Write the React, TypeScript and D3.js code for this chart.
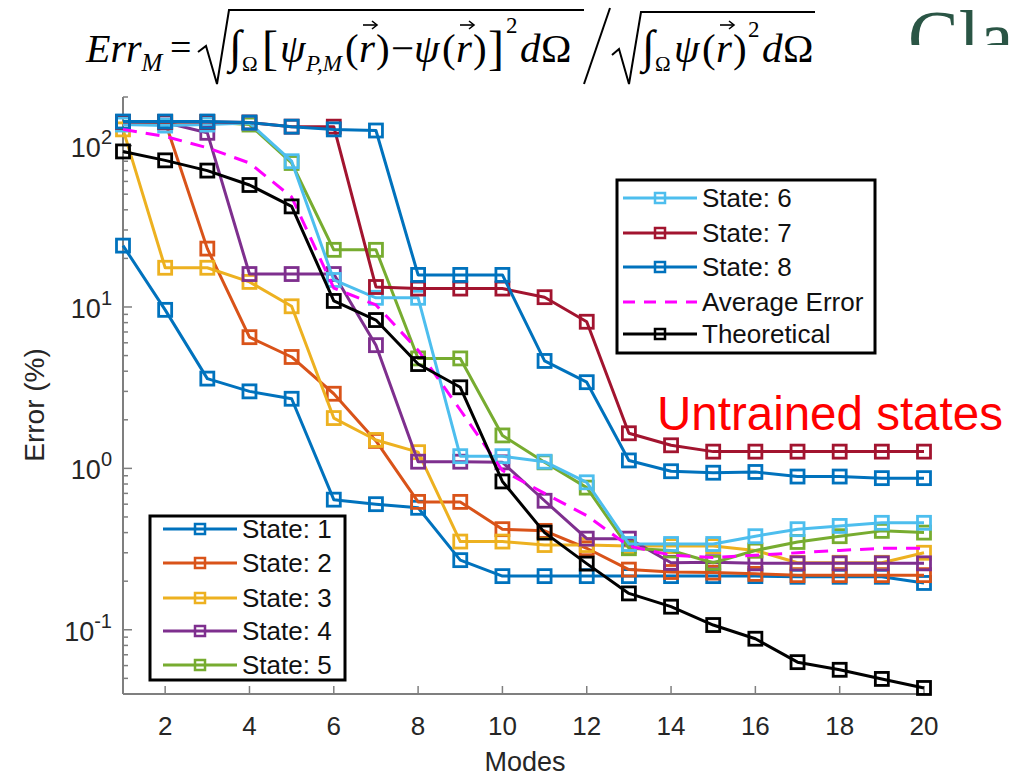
import React from 'react';
import * as d3 from 'd3';

// modes on the x axis
const modes = [1, 2, 3, 4, 5, 6, 7, 8, 9, 10, 11, 12, 13, 14, 15, 16, 17, 18, 19, 20];

const state1 = [24, 9.6, 3.6, 3.0, 2.7, 0.64, 0.6, 0.57, 0.27, 0.215, 0.215, 0.215, 0.215, 0.215, 0.215, 0.215, 0.213, 0.213, 0.213, 0.195];
const state2 = [140, 140, 23, 6.5, 4.9, 2.9, 1.48, 0.62, 0.62, 0.42, 0.41, 0.32, 0.236, 0.228, 0.226, 0.222, 0.218, 0.218, 0.218, 0.218];
const state3 = [126, 17.5, 17.5, 14.3, 10.1, 2.05, 1.5, 1.26, 0.352, 0.352, 0.335, 0.335, 0.33, 0.33, 0.33, 0.31, 0.26, 0.26, 0.26, 0.3];
const state4 = [140, 139, 120, 16, 16, 16, 5.8, 1.1, 1.1, 1.09, 0.63, 0.367, 0.367, 0.26, 0.262, 0.258, 0.258, 0.258, 0.258, 0.258];
const state5 = [140, 140, 140, 135, 78, 22.6, 22.6, 4.8, 4.8, 1.6, 1.09, 0.76, 0.32, 0.31, 0.26, 0.31, 0.35, 0.38, 0.41, 0.4];
const state6 = [135, 133, 135, 138, 80, 14.7, 11.4, 11.4, 1.19, 1.19, 1.1, 0.82, 0.34, 0.34, 0.34, 0.38, 0.42, 0.44, 0.46, 0.46];
const state7 = [140, 140, 140, 139, 131, 131, 13.3, 13, 13, 13, 11.5, 8.1, 1.65, 1.39, 1.27, 1.27, 1.27, 1.27, 1.27, 1.27];
const state8 = [141, 141, 141, 139, 131, 126, 124, 15.8, 15.8, 15.8, 4.63, 3.42, 1.12, 0.96, 0.94, 0.95, 0.89, 0.89, 0.87, 0.87];
const averageError = [126, 114, 97, 78, 48, 13.1, 10.3, 5.4, 2.3, 0.97, 0.7, 0.51, 0.33, 0.29, 0.28, 0.29, 0.3, 0.31, 0.32, 0.32];
const theoretical = [92, 81, 70, 57, 42, 10.9, 8.3, 4.43, 3.18, 0.83, 0.4, 0.257, 0.168, 0.139, 0.107, 0.088, 0.063, 0.0565, 0.0496, 0.0436];

const xTicks = [2, 4, 6, 8, 10, 12, 14, 16, 18, 20];
const yTickExps = [-1, 0, 1, 2];

const seriesList = [
  { name: 'State: 1', values: state1, color: '#0072BD', dashed: false, marker: true },
  { name: 'State: 2', values: state2, color: '#D95319', dashed: false, marker: true },
  { name: 'State: 3', values: state3, color: '#EDB120', dashed: false, marker: true },
  { name: 'State: 4', values: state4, color: '#7E2F8E', dashed: false, marker: true },
  { name: 'State: 5', values: state5, color: '#77AC30', dashed: false, marker: true },
  { name: 'State: 6', values: state6, color: '#4DBEEE', dashed: false, marker: true },
  { name: 'State: 7', values: state7, color: '#A2142F', dashed: false, marker: true },
  { name: 'State: 8', values: state8, color: '#0072BD', dashed: false, marker: true },
  { name: 'Average Error', values: averageError, color: '#FF00FF', dashed: true, marker: false },
  { name: 'Theoretical', values: theoretical, color: '#000000', dashed: false, marker: true },
];

const sans = '"Liberation Sans", Arial, sans-serif';
const serif = '"Liberation Serif", "Times New Roman", serif';
const axisColor = '#7f7f7f';
const textColor = '#262626';

const left = 123;
const right = 924;
const top = 97;
const bottom = 694;

function Legend({ x, y, w, h, items, rowY, lx }) {
  return (
    <g>
      <rect x={x} y={y} width={w} height={h} fill="white" stroke="black" strokeWidth={3} />
      {items.map((s, i) => {
        const cy = y + rowY[i];
        return (
          <g key={s.name}>
            <line x1={x + lx} x2={x + lx + 74} y1={cy} y2={cy} stroke={s.color} strokeWidth={3}
              strokeDasharray={s.dashed ? '12,9' : null} />
            {s.marker && (
              <rect x={x + lx + 32} y={cy - 5} width={10} height={10} fill="none" stroke={s.color} strokeWidth={2.5} />
            )}
            <text x={x + lx + 79} y={cy + 9} fontFamily={sans} fontSize={26} fill="#111">{s.name}</text>
          </g>
        );
      })}
    </g>
  );
}

// vector arrow over an r
function VecArrow({ x }) {
  return (
    <g stroke="#000" strokeWidth={1.6} fill="none">
      <line x1={x + 4} x2={x + 17} y1={25} y2={25} />
      <path d={`M${x + 13},21 L${x + 18},25 L${x + 13},29`} />
    </g>
  );
}

export default function App() {
  const x = d3.scaleLinear().domain([1, 20]).range([left, right]);
  const y = d3.scaleLog().domain([0.04, 200]).range([bottom, top]);

  const line = d3.line<number>()
    .x((d, i) => x(modes[i]))
    .y((d) => y(d));

  const minorTicks: number[] = [];
  [0.01, 0.1, 1, 10, 100].forEach((base) => {
    for (let k = 2; k <= 9; k++) {
      const v = base * k;
      if (v >= 0.04 && v <= 200) minorTicks.push(v);
    }
  });

  const ms = 13;

  return (
    <svg width={1022} height={778} style={{ position: 'absolute', left: 0, top: 0, background: 'white' }}>
      <rect width={1022} height={778} fill="white" />

      {/* formula */}
      <g fontFamily={serif} fill="#000">
        <text x={86} y={62} fontSize={40} fontStyle="italic">Err<tspan fontSize={25} dy={9}>M</tspan></text>
        <text x={170} y={60} fontSize={38}>=</text>
        <path d="M198,52 L206,46 L217,84 L229,10 L584,10" fill="none" stroke="#000" strokeWidth={2} />
        <text y={62} fontSize={41}>
          <tspan x={229} fontSize={46}>∫</tspan>
          <tspan x={242} y={71} fontSize={21}>Ω</tspan>
          <tspan x={262} y={64} fontSize={48}>[</tspan>
          <tspan x={280} y={62} fontStyle="italic">ψ</tspan>
          <tspan x={306} y={71} fontSize={23} fontStyle="italic">P,M</tspan>
          <tspan x={345} y={62}>(</tspan>
          <tspan x={359} fontStyle="italic">r</tspan>
          <tspan x={376}>)</tspan>
          <tspan x={391}>−</tspan>
          <tspan x={414} fontStyle="italic">ψ</tspan>
          <tspan x={442}>(</tspan>
          <tspan x={456} fontStyle="italic">r</tspan>
          <tspan x={473}>)</tspan>
          <tspan x={488} y={64} fontSize={48}>]</tspan>
          <tspan x={506} y={33} fontSize={23}>2</tspan>
          <tspan x={520} y={62} fontStyle="italic">d</tspan>
          <tspan x={541}>Ω</tspan>
        </text>
        <VecArrow x={359} />
        <VecArrow x={456} />
        <path d="M610,8 L584,84" fill="none" stroke="#000" strokeWidth={2} />
        <path d="M612,55 L619,49 L629,84 L641,12 L815,12" fill="none" stroke="#000" strokeWidth={2} />
        <text y={62} fontSize={41}>
          <tspan x={642} fontSize={46}>∫</tspan>
          <tspan x={655} y={71} fontSize={21}>Ω</tspan>
          <tspan x={674} y={62} fontStyle="italic">ψ</tspan>
          <tspan x={702}>(</tspan>
          <tspan x={716} fontStyle="italic">r</tspan>
          <tspan x={733}>)</tspan>
          <tspan x={748} y={37} fontSize={23}>2</tspan>
          <tspan x={762} y={62} fontStyle="italic">d</tspan>
          <tspan x={783}>Ω</tspan>
        </text>
        <VecArrow x={716} />
      </g>
      <clipPath id="claClip"><rect x={880} y={0} width={142} height={45} /></clipPath>
      <text x={908} y={63} fontFamily={serif} fontSize={76} fill="#2a5545" clipPath="url(#claClip)">Cla</text>

      {/* axes */}
      <line x1={left} x2={left} y1={top} y2={bottom} stroke={axisColor} strokeWidth={2} />
      <line x1={left} x2={right} y1={bottom} y2={bottom} stroke={axisColor} strokeWidth={2} />
      {xTicks.map((t) => (
        <g key={'x' + t}>
          <line x1={x(t)} x2={x(t)} y1={bottom} y2={bottom - 8} stroke={axisColor} strokeWidth={1.5} />
          <text x={x(t)} y={735} textAnchor="middle" fontFamily={sans} fontSize={26} fill={textColor}>{t}</text>
        </g>
      ))}
      {yTickExps.map((e) => (
        <g key={'y' + e}>
          <line x1={left} x2={left + 9} y1={y(Math.pow(10, e))} y2={y(Math.pow(10, e))} stroke={axisColor} strokeWidth={1.5} />
          <text x={112} y={y(Math.pow(10, e)) + 11} textAnchor="end" fontFamily={sans} fontSize={27} fill={textColor}>
            10<tspan fontSize={20} dy={-13}>{e}</tspan>
          </text>
        </g>
      ))}
      {minorTicks.map((v) => (
        <line key={'m' + v} x1={left} x2={left + 5} y1={y(v)} y2={y(v)} stroke={axisColor} strokeWidth={1.5} />
      ))}
      <text transform="translate(44,405) rotate(-90)" textAnchor="middle" fontFamily={sans} fontSize={28} fill={textColor}>Error (%)</text>
      <text x={525} y={771} textAnchor="middle" fontFamily={sans} fontSize={27} fill={textColor}>Modes</text>

      {/* series */}
      {seriesList.map((s) => (
        <g key={s.name}>
          <path d={line(s.values) || ''} fill="none" stroke={s.color} strokeWidth={3}
            strokeDasharray={s.dashed ? '14,9' : null} strokeLinejoin="round" />
          {s.marker && s.values.map((v, i) => (
            <rect key={i} x={x(modes[i]) - ms / 2} y={y(v) - ms / 2} width={ms} height={ms}
              fill="none" stroke={s.color} strokeWidth={2.8} />
          ))}
        </g>
      ))}

      <text x={657} y={430} fontFamily={sans} fontSize={47.5} fill="#ff0000">Untrained states</text>

      <Legend x={150} y={516} w={195} h={164} items={seriesList.slice(0, 5)} rowY={[13, 47, 82, 115, 149]} lx={13} />
      <Legend x={617} y={180} w={258} h={173} items={seriesList.slice(5)} rowY={[18, 53, 87, 122, 154]} lx={6} />
    </svg>
  );
}
